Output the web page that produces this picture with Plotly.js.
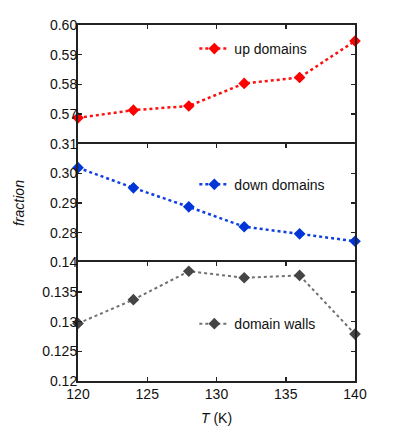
<!DOCTYPE html>
<html>
<head>
<meta charset="utf-8">
<script src="https://cdn.plot.ly/plotly-3.0.1.min.js"></script>
<style>html,body{margin:0;padding:0;background:#fff;}#chart{width:399px;height:431px;}</style>
</head>
<body>
<div id="chart"></div>
<script>
const temperatures = [120, 124, 128, 132, 136, 140];
const upDomains = [0.5687, 0.5713, 0.5727, 0.5803, 0.5823, 0.5946];
const downDomains = [0.3019, 0.2951, 0.2887, 0.2820, 0.2796, 0.2771];
const domainWalls = [0.1297, 0.1337, 0.1385, 0.1374, 0.1378, 0.1279];
const upTicks = [0.57, 0.58, 0.59, 0.60];
const upTickText = ['0.57', '0.58', '0.59', '0.60'];
const downTicks = [0.28, 0.29, 0.30, 0.31];
const downTickText = ['0.28', '0.29', '0.30', '0.31'];
const wallTicks = [0.12, 0.125, 0.13, 0.135, 0.14];
const wallTickText = ['0.12', '0.125', '0.13', '0.135', '0.14'];
const xTicks = [120, 125, 130, 135, 140];

const font = {family: 'Liberation Sans, Arial, sans-serif', size: 14, color: '#111'};

const traces = [
  {x: temperatures, y: upDomains, xaxis: 'x3', yaxis: 'y3', name: 'up domains', legend: 'legend',
   mode: 'lines+markers', cliponaxis: false,
   line: {color: '#ff1010', dash: 'dot', width: 2.5},
   marker: {symbol: 'diamond', size: 9, color: '#ff0000'}},
  {x: temperatures, y: downDomains, xaxis: 'x2', yaxis: 'y2', name: 'down domains', legend: 'legend2',
   mode: 'lines+markers', cliponaxis: false,
   line: {color: '#1040e0', dash: 'dot', width: 2.5},
   marker: {symbol: 'diamond', size: 9, color: '#0036d8'}},
  {x: temperatures, y: domainWalls, xaxis: 'x', yaxis: 'y', name: 'domain walls', legend: 'legend3',
   mode: 'lines+markers', cliponaxis: false,
   line: {color: '#707070', dash: 'dot', width: 2},
   marker: {symbol: 'diamond', size: 9, color: '#454545'}}
];

const axisCommon = {
  showline: true, linecolor: '#222', linewidth: 2,
  ticks: 'inside', ticklen: 4, tickwidth: 1.5, tickcolor: '#222',
  showgrid: false, zeroline: false, tickfont: font
};

const layout = {
  width: 399, height: 431,
  margin: {l: 78, r: 44, t: 25, b: 50},
  paper_bgcolor: '#fff', plot_bgcolor: '#fff',
  font: font,
  showlegend: true,
  xaxis: Object.assign({}, axisCommon, {domain: [0, 1], anchor: 'y', range: [120, 140], tickvals: xTicks,
    mirror: 'ticks', ticklabelstandoff: -1,
    title: {text: '<i>T</i> (K)', font: font, standoff: 12}}),
  xaxis2: Object.assign({}, axisCommon, {domain: [0, 1], anchor: 'y2', side: 'top', range: [120, 140], tickvals: xTicks, showticklabels: false}),
  xaxis3: Object.assign({}, axisCommon, {domain: [0, 1], anchor: 'y3', side: 'top', range: [120, 140], tickvals: xTicks, showticklabels: false}),
  yaxis: Object.assign({}, axisCommon, {domain: [0, 1/3], anchor: 'x', mirror: 'ticks', ticklabelstandoff: -4,
    range: [0.12, 0.14], tickvals: wallTicks, ticktext: wallTickText}),
  yaxis2: Object.assign({}, axisCommon, {domain: [1/3, 2/3], anchor: 'x2', mirror: 'ticks', ticklabelstandoff: -4,
    range: [0.27, 0.31], tickvals: downTicks, ticktext: downTickText,
    title: {text: '<i>fraction</i>', font: font, standoff: 22}}),
  yaxis3: Object.assign({}, axisCommon, {domain: [2/3, 1], anchor: 'x3', mirror: 'ticks', ticklabelstandoff: -4,
    range: [0.56, 0.60], tickvals: upTicks, ticktext: upTickText}),
  legend: {x: 0.42, y: 0.9326, xanchor: 'left', yanchor: 'middle', bgcolor: 'rgba(0,0,0,0)', font: font},
  legend2: {x: 0.42, y: 0.5514, xanchor: 'left', yanchor: 'middle', bgcolor: 'rgba(0,0,0,0)', font: font},
  legend3: {x: 0.42, y: 0.160, xanchor: 'left', yanchor: 'middle', bgcolor: 'rgba(0,0,0,0)', font: font}
};

Plotly.newPlot('chart', traces, layout, {displayModeBar: false, staticPlot: true});
</script>
</body>
</html>
